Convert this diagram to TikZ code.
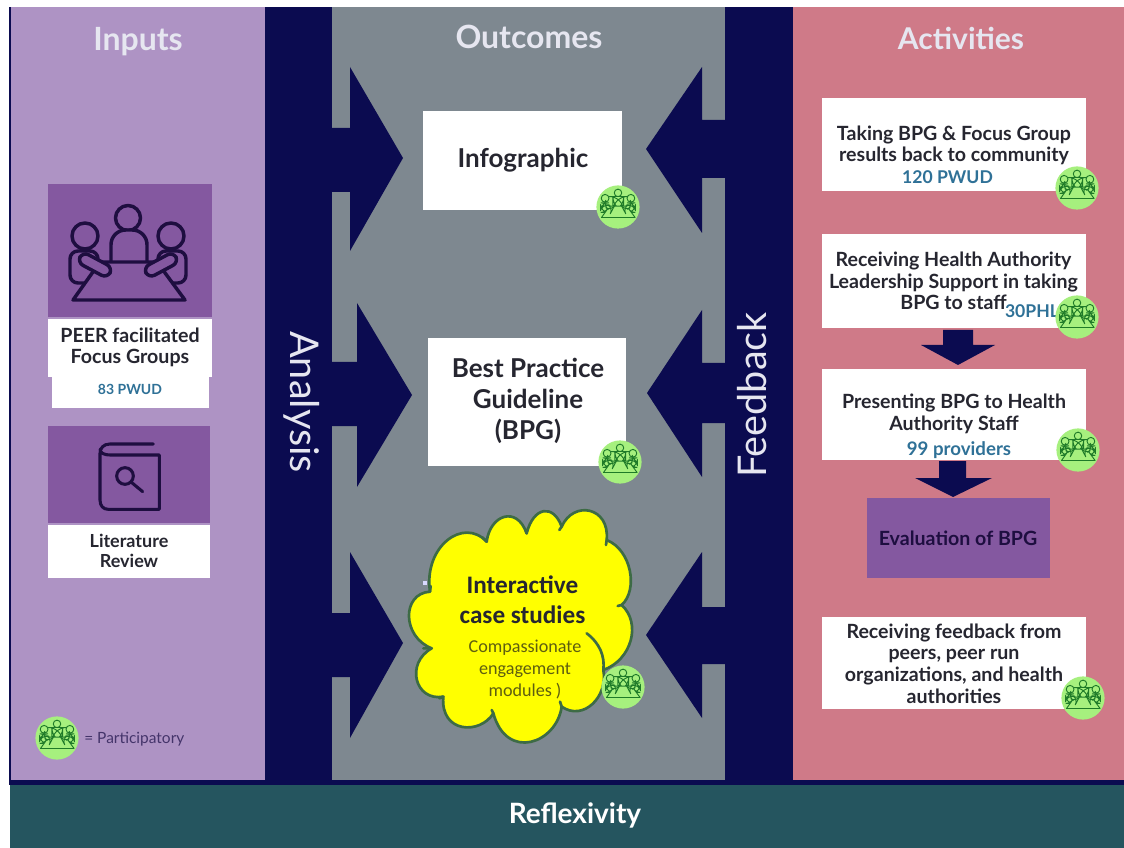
\documentclass[tikz,border=0pt]{standalone}
\usepackage{fontspec}
\setmainfont{Lato}
\newfontfamily\calfam{Carlito}
\definecolor{navy}{HTML}{0B0B50}
\definecolor{inputbg}{HTML}{AE93C4}
\definecolor{outbg}{HTML}{7E8890}
\definecolor{actbg}{HTML}{CF7A88}
\definecolor{reflex}{HTML}{25555F}
\definecolor{plum}{HTML}{8458A0}
\definecolor{inkdark}{HTML}{1E0E40}
\definecolor{badgefill}{HTML}{A6F07E}
\definecolor{badgeline}{HTML}{1E7A28}
\definecolor{count}{HTML}{2F7197}
\definecolor{bodytext}{HTML}{262630}
\definecolor{headtext}{HTML}{E6E6F0}
\definecolor{cloudline}{HTML}{3D6B45}
\definecolor{cloudfill}{HTML}{FFFF00}
\definecolor{cloudsubtext}{HTML}{5E5E10}
\definecolor{legendtext}{HTML}{44346A}
\newcommand{\meetingicon}[3]{%
  \begin{scope}[draw=#1,line width=#3,line join=round]
    \draw[fill=#2] (0,-47) circle (12.5);
    \draw[fill=#2] (-43,-29) circle (13);
    \draw[fill=#2] (43,-29) circle (13);
    \draw[fill=#2,rounded corners=11] (-17,15) -- (-17,-35) -- (19,-35) -- (19,15) -- cycle;
    \draw[fill=#2,rounded corners=6] (-30,-14) -- (-58,-14) -- (-58,18) -- (-30,18) -- cycle;
    \draw[fill=#2,rounded corners=6] (30,-14) -- (58,-14) -- (58,18) -- (30,18) -- cycle;
    \draw[fill=#2] (-28,-3) -- (29,-3) -- (57,35) -- (-55,35) -- cycle;
    \draw[fill=#2,rounded corners=5] (-50.8,-2.7) -- (-45.2,-13.3) -- (-15.2,2.7) -- (-20.8,13.3) -- cycle;
    \draw[fill=#2,rounded corners=5] (50.8,-2.7) -- (45.2,-13.3) -- (15.2,2.7) -- (20.8,13.3) -- cycle;
  \end{scope}}
\tikzset{
  x=.75pt,y=-.75pt,
  panel/.style={fill=#1,draw=none},
  block/.style={fill=navy,draw=none},
  pxbox/.style 2 args={minimum width=#1*.75pt,minimum height=#2*.75pt,inner sep=0pt,outer sep=0pt},
  whitebox/.style={fill=white,draw=none},
  plumbox/.style={fill=plum,draw=none},
  title/.style={text=headtext,font=\fontsize{24}{28}\selectfont\bfseries},
  boxtext/.style={text=bodytext,align=center,inner sep=0pt,font=\fontsize{14.7}{16.2}\selectfont\bfseries},
  bigtext/.style={text=bodytext,align=center,inner sep=0pt,font=\fontsize{19.5}{23}\selectfont\bfseries},
  counttext/.style={text=count,inner sep=0pt,font=\fontsize{13.2}{15}\selectfont\bfseries},
  sidelabel/.style={text=headtext,inner sep=0pt,font=\fontsize{29.7}{34}\selectfont},
  badge/.pic={
    \fill[badgefill] (0,0) circle (72);
    \meetingicon{badgeline}{badgefill}{.7pt}
  },
  bigicon/.pic={\meetingicon{inkdark}{plum}{2.6pt}}
}
\begin{document}
\begin{tikzpicture}
\useasboundingbox (0,0) rectangle (1124,848);
\fill[white] (0,0) rectangle (1124,848);
% panels
\fill[panel=inputbg] (10,7) rectangle (265,781);
\fill[navy] (9,7) rectangle (11,785);
\fill[panel=outbg] (332,7) rectangle (725,781);
\fill[panel=actbg] (793,7) rectangle (1124,781);
\fill[block] (265,7) rectangle (332,783);
\fill[block] (725,7) rectangle (793,783);
\fill[navy] (10,780) rectangle (1124,785);
\fill[panel=reflex] (10,785) rectangle (1124,848);
% block arrows from the analysis band
\fill[block] (330,128) -- (350,128) -- (350,67) -- (403,158) -- (350,251) -- (350,192) -- (330,192) -- cycle;
\fill[block] (330,362) -- (357,362) -- (357,303) -- (412,395) -- (357,487) -- (357,426) -- (330,426) -- cycle;
\fill[block] (330,613) -- (350,613) -- (350,552) -- (403,643) -- (350,738) -- (350,677) -- (330,677) -- cycle;
% block arrows from the feedback band
\fill[block] (727,120) -- (702,120) -- (702,67) -- (646,149) -- (702,233) -- (702,178) -- (727,178) -- cycle;
\fill[block] (727,363) -- (702,363) -- (702,310) -- (647,393) -- (702,477) -- (702,423) -- (727,423) -- cycle;
\fill[block] (727,607) -- (702,607) -- (702,552) -- (646,635) -- (702,718) -- (702,664) -- (727,664) -- cycle;
% titles
\node[title] (tinputs) at (138,42) {Inputs};
\node[title] (toutcomes) at (529,37) {Outcomes};
\node[title,font=\fontsize{22.5}{26}\selectfont\bfseries] (tactivities) at (961,38) {Activities};
\node[title,text=white,font=\fontsize{21}{24}\selectfont\bfseries] (treflex) at (575,815) {Reflexivity};
\node[sidelabel,rotate=-90] (analysis) at (302,402) {Analysis};
\node[sidelabel,rotate=90] (feedback) at (752.5,395) {Feedback};
% inputs
\node[plumbox,pxbox={164}{133}] (focusicon) at (130,250.5) {};
\pic[scale=1] at (128,265) {bigicon};
\node[whitebox,pxbox={157}{32}] (countbox) at (130.5,392) {};
\node[whitebox,pxbox={164}{58}] (focusbox) at (130,348) {};
\node[boxtext] (focustext) at (130,347.5) {PEER facilitated\\Focus Groups};
\node[counttext,font=\fontsize{10.5}{13}\selectfont\bfseries] (focuscount) at (130,389) {83 PWUD};
\node[plumbox,pxbox={162}{97}] (liticon) at (129,474.5) {};
\begin{scope}[shift={(0,420)},x=.25pt,y=-.25pt]
  \draw[inkdark,line width=2.3pt,line cap=round,line join=round]
    (460,72) -- (330,72) .. controls (310,72) and (300,85) .. (300,100) -- (300,240)
    .. controls (300,258) and (310,268) .. (325,268) -- (478,268) -- (478,105) -- (330,105)
    .. controls (315,105) and (300,100) .. (300,88);
  \draw[inkdark,line width=2.3pt,line cap=round] (375,168) circle (25) (393,186) -- (428,215);
\end{scope}
\node[whitebox,pxbox={162}{53}] (litbox) at (129,551.5) {};
\node[boxtext,font=\fontsize{13.5}{15}\selectfont\bfseries] (littext) at (129,551) {Literature\\Review};
\pic[scale=.3] at (57,738) {badge};
\node[anchor=west,inner sep=0pt,text=legendtext,font=\fontsize{11.6}{14}\selectfont] (legend) at (84,739) {= Participatory};
% outcomes
\node[whitebox,pxbox={199}{99}] (infobox) at (522.5,160.5) {};
\node[bigtext] (infotext) at (523,160) {Infographic};
\pic[scale=.3] at (618,207) {badge};
\node[whitebox,pxbox={198}{128}] (bpgbox) at (527,402) {};
\node[bigtext] (bpgtext) at (528,401) {Best Practice\\Guideline\\(BPG)};
\pic[scale=.3] at (620,462) {badge};
% cloud
\begin{scope}[shift={(320,480)},x=.25pt,y=-.25pt]
  \draw[fill=cloudfill,draw=cloudline,line width=2pt,line join=round]
    (330,335) .. controls (310,200) and (430,110) .. (500,185)
    .. controls (510,105) and (590,75) .. (620,160)
    .. controls (640,80) and (700,70) .. (725,140)
    .. controls (760,60) and (870,80) .. (860,180)
    .. controls (935,210) and (955,330) .. (905,375)
    .. controls (965,430) and (935,540) .. (850,570)
    .. controls (865,650) and (790,725) .. (725,680)
    .. controls (710,790) and (560,845) .. (520,700)
    .. controls (480,765) and (360,760) .. (370,650)
    .. controls (285,665) and (255,550) .. (335,505)
    .. controls (245,470) and (245,340) .. (330,335) -- cycle;
  \draw[cloudline,line width=2pt,line cap=round]
    (800,460) .. controls (840,490) and (855,530) .. (850,570)
    (905,375) -- (893,378)
    (335,505) -- (310,505)
    (330,335) -- (332,318)
    (500,185) -- (487,172)
    (620,160) -- (617,150)
    (725,140) -- (718,150)
    (860,180) -- (858,195)
    (725,680) -- (720,665)
    (520,700) -- (515,690)
    (370,650) -- (358,655);
  \fill[white!85!blue] (310,302) rectangle (322,316);
\end{scope}
\node[align=center,inner sep=0pt,text=bodytext,font=\calfam\fontsize{18.9}{22.5}\selectfont\bfseries] (cloudhead) at (522.5,600) {Interactive\\case studies};
\node[align=center,inner sep=0pt,text=cloudsubtext,font=\calfam\fontsize{13.6}{16.5}\selectfont] (cloudsub) at (525,670) {Compassionate\\engagement\\modules )};
\pic[scale=.3] at (623,687) {badge};
% activities
\node[whitebox,pxbox={264}{93}] (b1) at (954,144.5) {};
\node[boxtext] (b1text) at (954,145.5) {Taking BPG \& Focus Group\\results back to community};
\node[counttext] (b1count) at (947.5,177) {120 PWUD};
\pic[scale=.3] at (1077,188) {badge};
\node[whitebox,pxbox={264}{94}] (b2) at (954,281) {};
\node[boxtext] (b2text) at (953.5,281) {Receiving Health Authority\\Leadership Support in taking\\BPG to staff};
\node[counttext] (b2count) at (1032,311) {30PHL};
\pic[scale=.3] at (1077,317) {badge};
\fill[block] (943,330) -- (973,330) -- (973,345) -- (995,345) -- (958,365) -- (921,345) -- (943,345) -- cycle;
\node[whitebox,pxbox={264}{91}] (b3) at (954,414.5) {};
\node[boxtext] (b3text) at (954,414) {Presenting BPG to Health\\Authority Staff};
\node[counttext,font=\fontsize{14}{16}\selectfont\bfseries] (b3count) at (959,450) {99 providers};
\pic[scale=.3] at (1078,450) {badge};
\fill[block] (939,461) -- (966,461) -- (966,478) -- (992,478) -- (953,497) -- (915,478) -- (939,478) -- cycle;
\node[plumbox,pxbox={183}{80}] (evalbox) at (958.5,538) {};
\node[boxtext,text=inkdark] (evaltext) at (958,538) {Evaluation of BPG};
\node[whitebox,pxbox={264}{92}] (b5) at (954,663) {};
\node[boxtext] (b5text) at (954,663.5) {Receiving feedback from\\peers, peer run\\organizations, and health\\authorities};
\pic[scale=.3] at (1083,698) {badge};
\end{tikzpicture}
\end{document}
